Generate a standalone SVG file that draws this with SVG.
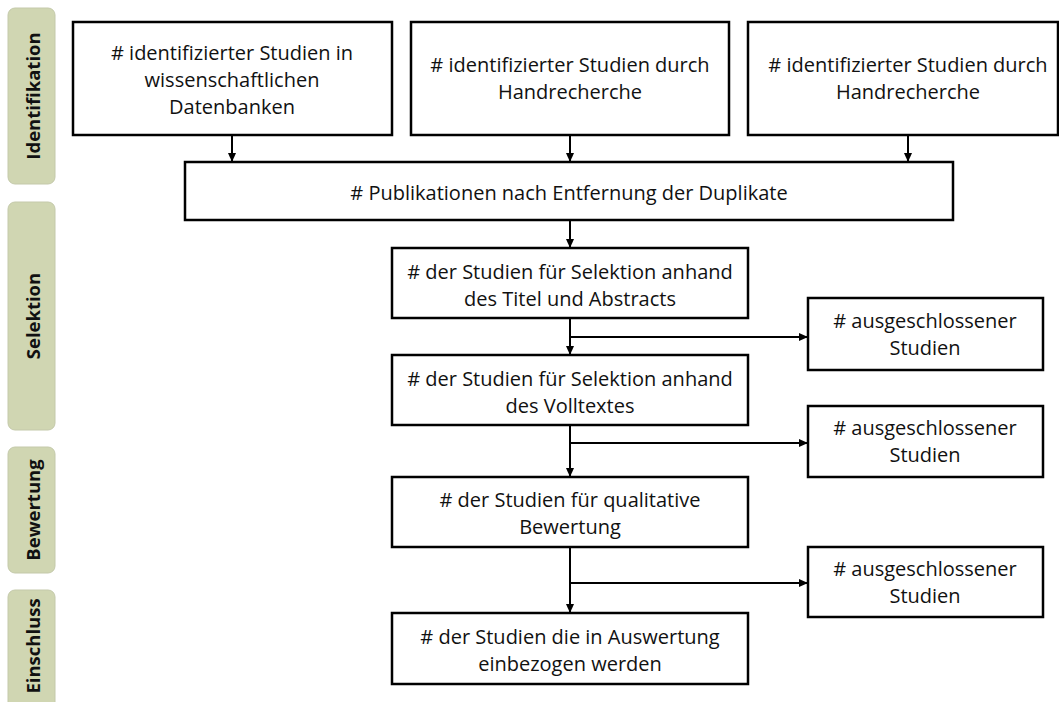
<svg xmlns="http://www.w3.org/2000/svg" width="1059" height="702" viewBox="0 0 1059 702">
<defs>
<marker id="ah" markerWidth="10" markerHeight="10" refX="9" refY="5" orient="auto" markerUnits="userSpaceOnUse">
<path d="M0,1 L9,5 L0,9 Z" fill="#000"/>
</marker>
<style>
.tab{fill:#d0d6b2;stroke:#c4c9aa;stroke-width:1}
.tabt{font-family:"Open Sans","Liberation Sans",sans-serif;font-weight:bold;font-size:18.5px;fill:#111;text-anchor:middle}
.box{fill:#fff;stroke:#000;stroke-width:2.5}
.t{font-family:"Open Sans","Liberation Sans",sans-serif;font-size:20px;fill:#111;text-anchor:middle}
.c{fill:none;stroke:#000;stroke-width:2}
</style>
</defs>
<rect width="1059" height="702" fill="#fff"/>
<g id="tab-identifikation"><rect class="tab" x="8" y="8" width="47" height="176" rx="7"/><text class="tabt" transform="translate(40,96) rotate(-90)">Identifikation</text></g>
<g id="tab-selektion"><rect class="tab" x="8" y="202" width="47" height="228" rx="7"/><text class="tabt" transform="translate(40,316) rotate(-90)">Selektion</text></g>
<g id="tab-bewertung"><rect class="tab" x="8" y="447" width="47" height="126" rx="7"/><text class="tabt" transform="translate(40,510) rotate(-90)">Bewertung</text></g>
<g id="tab-einschluss"><rect class="tab" x="8" y="590" width="47" height="125" rx="7"/><text class="tabt" transform="translate(40,646) rotate(-90)">Einschluss</text></g>

<g id="connectors">
<line class="c" x1="232" y1="135" x2="232" y2="162" marker-end="url(#ah)"/>
<line class="c" x1="570" y1="135" x2="570" y2="162" marker-end="url(#ah)"/>
<line class="c" x1="908" y1="135" x2="908" y2="162" marker-end="url(#ah)"/>
<line class="c" x1="570" y1="220" x2="570" y2="248" marker-end="url(#ah)"/>
<line class="c" x1="570" y1="318" x2="570" y2="355" marker-end="url(#ah)"/>
<line class="c" x1="570" y1="337" x2="808" y2="337" marker-end="url(#ah)"/>
<line class="c" x1="570" y1="425" x2="570" y2="477" marker-end="url(#ah)"/>
<line class="c" x1="570" y1="443" x2="808" y2="443" marker-end="url(#ah)"/>
<line class="c" x1="570" y1="547" x2="570" y2="613" marker-end="url(#ah)"/>
<line class="c" x1="570" y1="583" x2="808" y2="583" marker-end="url(#ah)"/>
</g>

<g id="n-db"><rect class="box" x="73" y="22" width="319" height="113"/><text class="t" x="232" y="60"><tspan x="232"># identifizierter Studien in</tspan><tspan x="232" dy="27">wissenschaftlichen</tspan><tspan x="232" dy="27">Datenbanken</tspan></text></g>
<g id="n-hand1"><rect class="box" x="411" y="22" width="318" height="113"/><text class="t" x="570" y="72"><tspan x="570"># identifizierter Studien durch</tspan><tspan x="570" dy="27">Handrecherche</tspan></text></g>
<g id="n-hand2"><rect class="box" x="748" y="22" width="310" height="113"/><text class="t" x="908" y="72"><tspan x="908"># identifizierter Studien durch</tspan><tspan x="908" dy="27">Handrecherche</tspan></text></g>
<g id="n-dup"><rect class="box" x="185" y="162" width="768" height="58"/><text class="t" x="569" y="200"># Publikationen nach Entfernung der Duplikate</text></g>
<g id="n-sel1"><rect class="box" x="392" y="248" width="356" height="70"/><text class="t" x="570" y="279"><tspan x="570"># der Studien für Selektion anhand</tspan><tspan x="570" dy="27">des Titel und Abstracts</tspan></text></g>
<g id="n-ex1"><rect class="box" x="808" y="298" width="235" height="72"/><text class="t" x="925" y="328"><tspan x="925"># ausgeschlossener</tspan><tspan x="925" dy="27">Studien</tspan></text></g>
<g id="n-sel2"><rect class="box" x="392" y="355" width="356" height="70"/><text class="t" x="570" y="386"><tspan x="570"># der Studien für Selektion anhand</tspan><tspan x="570" dy="27">des Volltextes</tspan></text></g>
<g id="n-ex2"><rect class="box" x="808" y="406" width="235" height="71"/><text class="t" x="925" y="435"><tspan x="925"># ausgeschlossener</tspan><tspan x="925" dy="27">Studien</tspan></text></g>
<g id="n-bew"><rect class="box" x="392" y="477" width="356" height="70"/><text class="t" x="570" y="507"><tspan x="570"># der Studien für qualitative</tspan><tspan x="570" dy="27">Bewertung</tspan></text></g>
<g id="n-ex3"><rect class="box" x="808" y="547" width="235" height="70"/><text class="t" x="925" y="576"><tspan x="925"># ausgeschlossener</tspan><tspan x="925" dy="27">Studien</tspan></text></g>
<g id="n-final"><rect class="box" x="392" y="613" width="356" height="71"/><text class="t" x="570" y="644"><tspan x="570"># der Studien die in Auswertung</tspan><tspan x="570" dy="27">einbezogen werden</tspan></text></g>
</svg>
